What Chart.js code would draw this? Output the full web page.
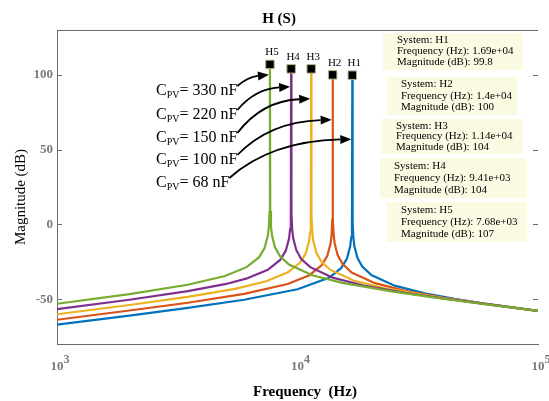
<!DOCTYPE html>
<html>
<head>
<meta charset="utf-8">
<script src="https://cdn.jsdelivr.net/npm/chart.js@4.4.1/dist/chart.umd.min.js"></script>
<style>
  body { margin: 0; background: #fff; }
  canvas { display: block; }
</style>
</head>
<body>
<canvas id="bodeChart" width="549" height="401"></canvas>
<script>
// magnitude curves (Hz, dB)
const freqH1 = [1000, 2000, 3500, 6000, 10000, 13520, 15210, 16055, 16562, 16731, 16849, 16900, 16951, 17069, 17238, 17745, 18590, 20280, 25350, 33800, 45000, 60000, 100000];
const magH1 = [-67.1, -61.0, -55.9, -50.4, -43.4, -35.7, -29.1, -22.8, -14.7, -8.7, 1.8, 99.8, 1.8, -8.6, -14.6, -22.4, -28.2, -33.9, -41.0, -46.1, -49.8, -52.9, -57.8];

const freqH2 = [1000, 2000, 3500, 6000, 9100, 11200, 12600, 13300, 13720, 13860, 13958, 14000, 14042, 14140, 14280, 14700, 15400, 16800, 21000, 28000, 40000, 60000, 100000];
const magH2 = [-63.8, -57.6, -52.4, -46.5, -39.9, -34.0, -27.4, -21.1, -13.0, -7.0, 3.5, 100, 3.6, -6.9, -12.9, -20.7, -26.5, -32.2, -39.3, -44.4, -48.9, -53.1, -57.8];

const freqH3 = [1000, 2000, 3500, 5500, 7410, 9120, 10260, 10830, 11172, 11286, 11366, 11400, 11434, 11514, 11628, 11970, 12540, 13680, 17100, 22800, 40000, 60000, 100000];
const magH3 = [-60.1, -53.9, -48.5, -43.1, -38.0, -32.1, -25.5, -19.3, -11.2, -5.1, 5.4, 104, 5.4, -5.0, -11.0, -18.8, -24.7, -30.3, -37.5, -42.6, -49.2, -53.2, -57.8];

const freqH4 = [1000, 2000, 3500, 5000, 6117, 7528, 8469, 8940, 9222, 9316, 9382, 9410, 9438, 9504, 9598, 9880, 10351, 11292, 14115, 18820, 28000, 40000, 60000, 100000];
const magH4 = [-56.7, -50.4, -44.6, -40.0, -36.3, -30.4, -23.8, -17.6, -9.5, -3.4, 7.1, 104, 7.1, -3.3, -9.3, -17.1, -23.0, -28.6, -35.8, -40.9, -45.8, -49.4, -53.2, -57.8];

const freqH5 = [1000, 2000, 3500, 4992, 6144, 6912, 7296, 7526, 7603, 7657, 7680, 7703, 7757, 7834, 8064, 8448, 9216, 11520, 15360, 25000, 40000, 60000, 100000];
const magH5 = [-53.1, -46.6, -40.4, -34.5, -28.6, -22.1, -15.8, -7.7, -1.6, 8.9, 107, 8.9, -1.5, -7.5, -15.4, -21.2, -26.9, -34.0, -39.1, -45.0, -49.6, -53.3, -57.8];

const systems = ['H1', 'H2', 'H3', 'H4', 'H5'];
const peakFreq = [16900, 14000, 11400, 9410, 7680];
const peakMag = [99.8, 100, 104, 104, 107];
const cpvLabels = ['330 nF', '220 nF', '150 nF', '100 nF', '68 nF'];
const cpvSystem = [4, 3, 2, 1, 0];          // which system each label points at
const arrowTargetDb = [100, 92, 84, 70, 57];
const xTicks = [1000, 10000, 100000];
const yTicks = [-50, 0, 50, 100];

const colors = ['#0072BD', '#D95319', '#EDB120', '#7E2F8E', '#77AC30'];
const axisColor = '#6b6b6b';
const serif = "'Liberation Serif', 'Times New Roman', serif";

Chart.defaults.font.family = serif;

function toPoints(fs, ms) {
  return fs.map((f, i) => ({ x: f, y: ms[i] }));
}

function fmt3(v) {
  if (v >= 1000) {
    const e = Math.floor(Math.log10(v));
    const m = parseFloat((v / Math.pow(10, e)).toPrecision(3));
    return m + 'e+' + String(e).padStart(2, '0');
  }
  return String(parseFloat(v.toPrecision(3)));
}

const curves = [
  [freqH1, magH1], [freqH2, magH2], [freqH3, magH3], [freqH4, magH4], [freqH5, magH5]
];

const datasets = curves.map((c, i) => ({
  label: systems[i],
  data: toPoints(c[0], c[1]),
  borderColor: colors[i],
  borderWidth: 2.2,
  pointRadius: 0,
  tension: 0,
  fill: false,
  order: 5 - i
}));

datasets.push({
  label: 'peaks',
  data: toPoints(peakFreq, peakMag),
  showLine: false,
  pointStyle: 'rect',
  pointRadius: 6,
  backgroundColor: '#000',
  borderColor: '#b9b48c',
  borderWidth: 1,
  order: 0
});

// boxes of the data tips on the right
const tipBoxes = [
  { x: 383, y: 33, w: 140, h: 37 },
  { x: 387, y: 77, w: 131, h: 38 },
  { x: 382, y: 119, w: 141, h: 35 },
  { x: 380, y: 158, w: 147, h: 40 },
  { x: 387, y: 202, w: 140, h: 40 }
];

const annotations = {
  id: 'bodeAnnotations',
  afterDraw(chart) {
    const ctx = chart.ctx;
    const area = chart.chartArea;
    const xs = chart.scales.x;
    const ys = chart.scales.y;
    ctx.save();

    // top border + inward ticks
    ctx.strokeStyle = axisColor;
    ctx.lineWidth = 1;
    ctx.beginPath();
    ctx.moveTo(area.left, area.top + 0.5);
    ctx.lineTo(area.right, area.top + 0.5);
    yTicks.forEach(v => {
      const y = Math.round(ys.getPixelForValue(v)) + 0.5;
      ctx.moveTo(area.left, y);
      ctx.lineTo(area.left + 5, y);
      ctx.moveTo(area.right, y);
      ctx.lineTo(area.right - 5, y);
    });
    ctx.stroke();

    // x tick labels 10^n
    ctx.fillStyle = '#7a7a7a';
    ctx.textBaseline = 'alphabetic';
    xTicks.forEach(t => {
      const x = xs.getPixelForValue(t);
      ctx.font = 'bold 13px ' + serif;
      ctx.textAlign = 'center';
      ctx.fillText('10', x, 370);
      const w = ctx.measureText('10').width;
      ctx.font = 'bold 12px ' + serif;
      ctx.textAlign = 'left';
      ctx.fillText(String(Math.round(Math.log10(t))), x + w / 2, 363);
    });

    // titles
    ctx.fillStyle = '#000';
    ctx.textAlign = 'center';
    ctx.textBaseline = 'middle';
    ctx.font = 'bold 15px ' + serif;
    ctx.fillText('H (S)', 279, 19);
    ctx.fillText('Frequency  (Hz)', 305, 392);
    ctx.save();
    ctx.translate(21, 197);
    ctx.rotate(-Math.PI / 2);
    ctx.font = '15px ' + serif;
    ctx.fillText('Magnitude (dB)', 0, 0);
    ctx.restore();

    // system names over the peak markers
    ctx.font = '11px ' + serif;
    peakFreq.forEach((f, i) => {
      ctx.fillText(systems[i], xs.getPixelForValue(f) + 2, ys.getPixelForValue(peakMag[i]) - 12);
    });

    // C_PV labels with arrows
    const labelY = [90, 114, 137, 159, 182];
    cpvLabels.forEach((txt, i) => {
      let x = 156;
      const yc = labelY[i];
      const base = yc + 5;
      ctx.fillStyle = '#000';
      ctx.textAlign = 'left';
      ctx.textBaseline = 'alphabetic';
      ctx.font = '16px ' + serif;
      ctx.fillText('C', x, base);
      x += ctx.measureText('C').width;
      ctx.font = '10px ' + serif;
      ctx.fillText('PV', x, base + 3);
      x += ctx.measureText('PV').width;
      ctx.font = '16px ' + serif;
      ctx.fillText('= ' + txt, x, base);
      x += ctx.measureText('= ' + txt).width;

      const k = cpvSystem[i];
      const sx = x, sy = yc - 4;
      const tx = xs.getPixelForValue(peakFreq[k]) - 1;
      const ty = ys.getPixelForValue(arrowTargetDb[i]);
      const cx = sx + 0.34 * (tx - sx), cy = ty + 2;
      const ang = Math.atan2(ty - cy, tx - cx);
      const len = 11, hw = 4.5;
      const bx = tx - len * Math.cos(ang), by = ty - len * Math.sin(ang);
      ctx.strokeStyle = '#000';
      ctx.lineWidth = 1.8;
      ctx.beginPath();
      ctx.moveTo(sx, sy);
      ctx.quadraticCurveTo(cx, cy, bx, by);
      ctx.stroke();
      ctx.beginPath();
      ctx.moveTo(tx, ty);
      ctx.lineTo(bx + hw * Math.sin(ang), by - hw * Math.cos(ang));
      ctx.lineTo(bx - hw * Math.sin(ang), by + hw * Math.cos(ang));
      ctx.closePath();
      ctx.fill();
    });

    // data tips
    tipBoxes.forEach((b, i) => {
      ctx.fillStyle = '#fbfbe4';
      ctx.fillRect(b.x, b.y, b.w, b.h);
      ctx.fillStyle = '#000';
      ctx.font = '11px ' + serif;
      ctx.textAlign = 'left';
      ctx.textBaseline = 'middle';
      const lines = [
        'System: ' + systems[i],
        'Frequency (Hz): ' + fmt3(peakFreq[i]),
        'Magnitude (dB): ' + fmt3(peakMag[i])
      ];
      lines.forEach((s, j) => {
        ctx.fillText(s, b.x + 14, b.y + b.h * (0.2 + 0.3 * j));
      });
    });

    ctx.restore();
  }
};

new Chart(document.getElementById('bodeChart').getContext('2d'), {
  type: 'line',
  data: { datasets: datasets },
  options: {
    responsive: false,
    animation: false,
    layout: { padding: { top: 30, right: 11, left: 0, bottom: 0 } },
    plugins: {
      legend: { display: false },
      tooltip: { enabled: false },
      title: { display: false }
    },
    scales: {
      x: {
        type: 'logarithmic',
        min: 1000,
        max: 100000,
        afterBuildTicks: s => { s.ticks = xTicks.map(v => ({ value: v })); },
        afterFit: s => { s.height = 57; },
        ticks: { display: false },
        grid: { display: false, drawTicks: false },
        border: { display: true, color: axisColor }
      },
      y: {
        min: -80,
        max: 130,
        afterBuildTicks: s => { s.ticks = yTicks.map(v => ({ value: v })); },
        afterFit: s => { s.width = 57; },
        ticks: {
          padding: 4,
          color: '#7a7a7a',
          font: { size: 13, weight: 'bold', family: serif }
        },
        grid: { display: false, drawTicks: false },
        border: { display: true, color: axisColor }
      }
    }
  },
  plugins: [annotations]
});
</script>
</body>
</html>
